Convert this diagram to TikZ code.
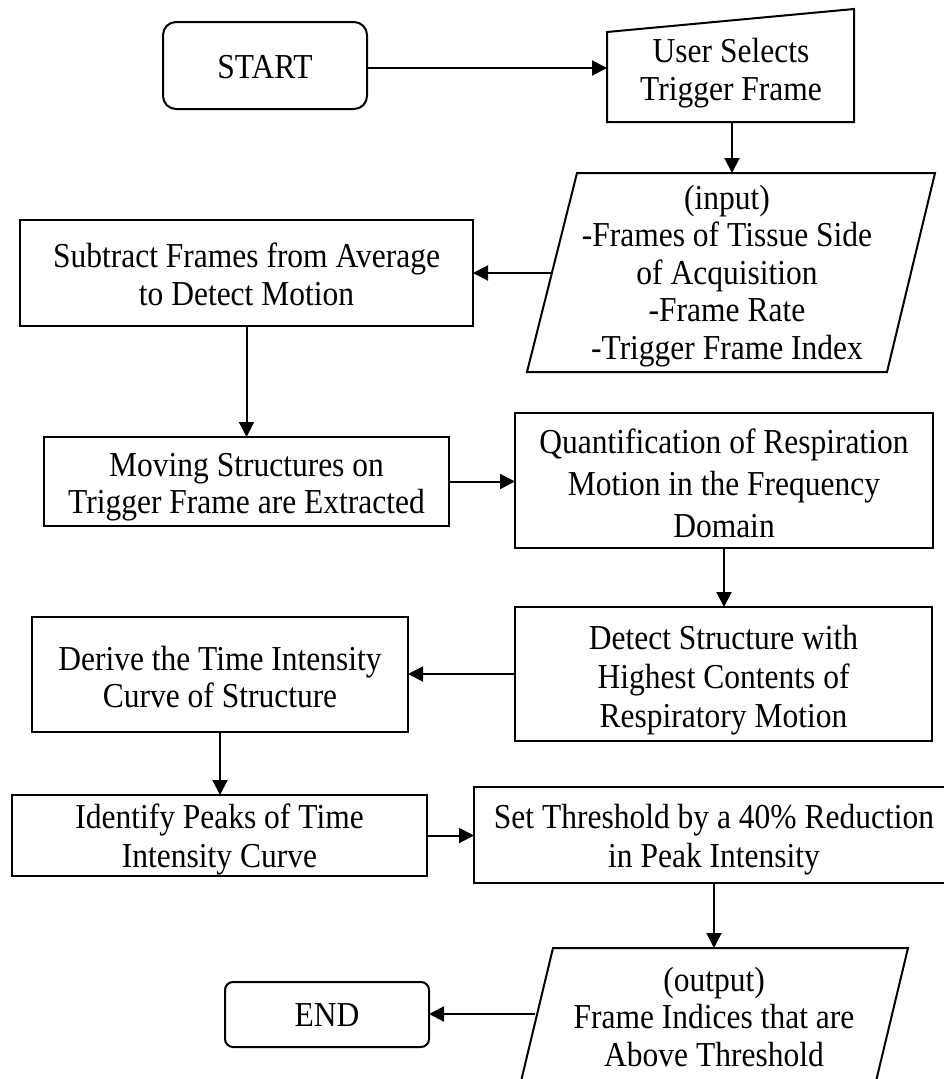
\documentclass[tikz,border=0pt]{standalone}
\usepackage{fontspec}
\setmainfont{Liberation Serif}[FakeStretch=0.9]
\usetikzlibrary{arrows.meta,calc}
\newcommand\flowfont{\fontsize{35}{37.5}\selectfont}
\begin{document}
\begin{tikzpicture}[x=1pt,y=-1pt,line width=2pt,
  box/.style={draw,rectangle,inner sep=0pt,outer sep=0pt},
  term/.style={box,rounded corners=#1},
  txt/.style={inner sep=0pt,outer sep=0pt,align=center,font=\flowfont},
  lsk/.style={font=\fontsize{35}{#1}\selectfont},
  outline/.style={draw,line join=miter},
  arr/.style={-{Triangle[length=15pt,width=15pt]},line width=2pt}]
\useasboundingbox (0,0) rectangle (944,1079);
\clip (0,0) rectangle (944,1079);
\fill[white] (0,0) rectangle (944,1079);

% terminals
\node[term=13pt,minimum width=204pt,minimum height=87pt] (start) at (265,65.5) {};
\node[txt] (startT) at (265,67.5) {START};
\node[term=8pt,minimum width=204pt,minimum height=65pt] (end) at (327,1014.5) {};
\node[txt] (endT) at (327,1015) {END};

% manual input
\draw[outline] (607,32) -- (854,9) -- (854,122) -- (607,122) -- cycle;
\node[txt] (user) at (731,73) {User Selects\\Trigger Frame};
\coordinate (userW) at (607,68);
\coordinate (userS) at (732,122);

% input parallelogram
\draw[outline] (577,173) -- (935,173) -- (887,372) -- (527,372) -- cycle;
\node[txt] (inp) at (727,276) {(input)\\-Frames of Tissue Side\\of Acquisition\\-Frame Rate\\-Trigger Frame Index};
\coordinate (inpN) at (732,173);
\coordinate (inpW) at (552,273);

% process boxes
\node[box,minimum width=453pt,minimum height=106pt] (sub) at (246.5,273) {};
\node[txt] (subT) at (246.5,274.5) {Subtract Frames from Average\\to Detect Motion};
\node[box,minimum width=405pt,minimum height=89pt] (mov) at (246.5,481.5) {};
\node[txt] (movT) at (246.5,487) {Moving Structures on\\Trigger Frame are Extracted};
\node[box,minimum width=418pt,minimum height=135pt] (quant) at (724,480.5) {};
\node[txt,lsk=42] (quantT) at (724,483) {Quantification of Respiration\\Motion in the Frequency\\Domain};
\node[box,minimum width=417pt,minimum height=134pt] (det) at (723.5,674) {};
\node[txt,lsk=39] (detT) at (723.5,680) {Detect Structure with\\Highest Contents of\\Respiratory Motion};
\node[box,minimum width=376pt,minimum height=115pt] (der) at (220,674.5) {};
\node[txt] (derT) at (220,677) {Derive the Time Intensity\\Curve of Structure};
\node[box,minimum width=415pt,minimum height=81pt] (ide) at (219.5,835.5) {};
\node[txt,lsk=39] (ideT) at (219.5,839.5) {Identify Peaks of Time\\Intensity Curve};
\node[box,minimum width=480pt,minimum height=96pt] (set) at (714,835) {};
\node[txt,lsk=39] (setT) at (714,840) {Set Threshold by a 40\% Reduction\\in Peak Intensity};

% output parallelogram
\draw[outline] (553,948) -- (908,948) -- (871.5,1100) -- (516.5,1100) -- cycle;
\node[txt] (out) at (714,1017) {(output)\\Frame Indices that are\\Above Threshold};
\coordinate (outN) at (714,948);
\coordinate (outW) at (535,1014);

% connectors
\draw[arr] (start.east |- userW) -- (userW);
\draw[arr] (userS) -- (inpN);
\draw[arr] (inpW) -- (inpW -| sub.east);
\draw[arr] (sub.south) -- (mov.north);
\draw[arr] (mov.east) -- (mov.east -| quant.west);
\draw[arr] (quant.south) -- (quant.south |- det.north);
\draw[arr] (det.west) -- (det.west -| der.east);
\draw[arr] (der.south) -- (der.south |- ide.north);
\draw[arr] (ide.east) -- (ide.east -| set.west);
\draw[arr] (set.south) -- (outN);
\draw[arr] (outW) -- (outW -| end.east);
\end{tikzpicture}
\end{document}
